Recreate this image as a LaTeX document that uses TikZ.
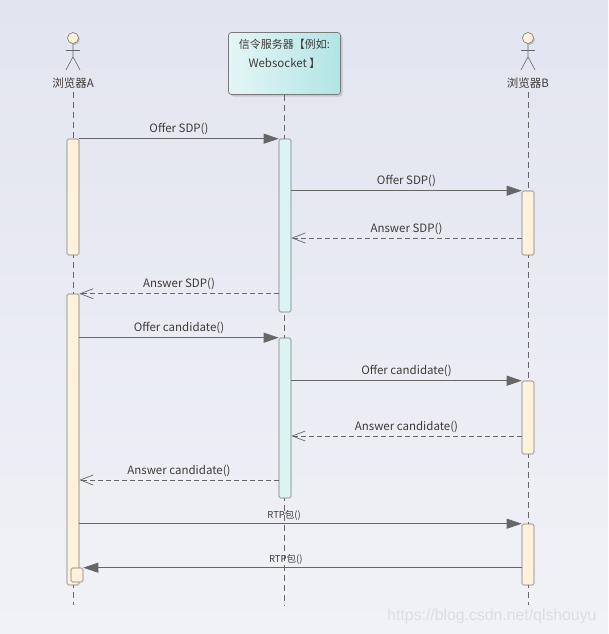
\documentclass[tikz,border=0pt]{standalone}
\usepackage{fontspec}
\setmainfont{Noto Sans CJK SC}
\newfontfamily\wmfont{Liberation Sans}
\usetikzlibrary{arrows.meta}
\usetikzlibrary{shadows}
\usetikzlibrary{positioning}
\definecolor{bgtop}{HTML}{E2E4EF}
\definecolor{bgbot}{HTML}{F1F2F7}
\definecolor{linegray}{HTML}{666666}
\definecolor{boxline}{HTML}{7A7A7A}
\definecolor{cream}{HTML}{FFF1DA}
\definecolor{aqua}{HTML}{DCF3F3}
\definecolor{aquaL}{HTML}{E4F6F6}
\definecolor{aquaR}{HTML}{B2E4E4}
\definecolor{txt}{HTML}{3F3A36}
\definecolor{wm}{HTML}{DCDCE4}
\tikzset{
  life/.style={draw=linegray, line width=0.6pt, dash pattern=on 6pt off 4pt},
  head/.style={circle, draw=boxline, fill=cream, minimum size=11pt, inner sep=0pt, line width=0.6pt,
    drop shadow={shadow xshift=1.5pt, shadow yshift=-1.5pt, opacity=0.35}},
  stick/.style={draw=linegray, line width=0.6pt},
  actlbl/.style={font=\fontsize{11.5}{13}\selectfont, text=txt},
  srvbox/.style={draw=boxline, rounded corners=3pt, left color=aquaL, right color=aquaR, line width=0.7pt,
    minimum width=112pt, minimum height=62pt, inner sep=0pt,
    drop shadow={shadow xshift=2pt, shadow yshift=-2pt, opacity=0.3}},
  actbox/.style={draw=boxline, fill=cream, rounded corners=1.5pt, minimum width=12pt, inner sep=0pt, line width=0.6pt},
  actsrv/.style={actbox, fill=aqua},
  msg/.style={draw=linegray, line width=0.7pt, -{Triangle[length=15pt,width=10pt,fill=linegray]}},
  ret/.style={draw=linegray, line width=0.7pt, dash pattern=on 5pt off 3pt, -{Straight Barb[length=13pt,width=10pt]}},
  mlbl/.style={font=\fontsize{11.5}{13}\selectfont, text=txt, above=0pt}
}
\begin{document}
\begin{tikzpicture}[x=1pt,y=-1pt]
\shade[top color=bgtop, bottom color=bgbot] (0,0) rectangle (608,634);
\useasboundingbox (0,0) rectangle (608,634);
\coordinate (end) at (0,605);

\foreach \x/\n/\t in {73/usera/浏览器A, 528/userb/浏览器B}{
  \node[head] (\n) at (\x,38) {};
  \draw[stick] (\n.south) -- ++(0,13) -- ++(-7,13) ++(7,-13) -- ++(7,13);
  \draw[stick] ({\x-7},50) -- ({\x+7},50);
  \node[actlbl] (\n lbl) at (\x,83) {\t};
  \draw[life] (\n lbl.south) -- (\n lbl.south |- end);
}
\node[srvbox] (srv) at (284.5,63.5) {};
\node[actlbl, align=center, font=\fontsize{11}{19}\selectfont, below=3.5pt of srv.north] (srvt)
  {信令服务器【例如:\\{\fontsize{11.5}{19}\selectfont Websocket} 】};
\draw[life] (srv.south) -- (srv.south |- end);

\node[actbox, minimum height=116pt] (a1) at (73,197) {};
\node[actsrv, minimum height=173pt] (s1) at (285,225.5) {};
\node[actbox, minimum height=64pt] (b1) at (528,223) {};
\node[actbox, minimum height=291pt] (a2) at (73,439.5) {};
\node[actsrv, minimum height=160pt] (s2) at (285,418) {};
\node[actbox, minimum height=73pt] (b2) at (528,417.5) {};
\node[actbox, minimum height=61pt] (b3) at (528,554.5) {};
\node[actbox, minimum height=14pt] (a3) at (77,575) {};

\coordinate (r1) at (0,238);
\coordinate (r2) at (0,436);
\coordinate (r3) at (0,480);

\draw[msg] (a1.north east) -- node[mlbl] (m1) {Offer SDP()} (s1.north west);
\draw[msg] (s1.east |- b1.north) -- node[mlbl] (m2) {Offer SDP()} (b1.north west);
\draw[ret] (b1.west |- r1) -- node[mlbl] (m3) {Answer SDP()} (s1.east |- r1);
\draw[ret] (s1.west |- a2.north) -- node[mlbl] (m4) {Answer SDP()} (a2.north east);
\draw[msg] (a2.east |- s2.north) -- node[mlbl] (m5) {Offer candidate()} (s2.north west);
\draw[msg] (s2.east |- b2.north) -- node[mlbl] (m6) {Offer candidate()} (b2.north west);
\draw[ret] (b2.west |- r2) -- node[mlbl] (m7) {Answer candidate()} (s2.east |- r2);
\draw[ret] (s2.west |- r3) -- node[mlbl] (m8) {Answer candidate()} (a2.east |- r3);
\draw[msg] (a2.east |- b3.north) -- node[mlbl, pos=0.463, font=\fontsize{9.5}{11}\selectfont] (m9) {RTP包()} (b3.north west);
\draw[msg] (b3.west |- a3.north) -- node[mlbl, pos=0.538, font=\fontsize{9.5}{11}\selectfont] (m10) {RTP包()} (a3.north east);

\node[font=\wmfont\fontsize{15.8}{18}\selectfont, text=wm, anchor=east] (wmark) at (600,616) {https://blog.csdn.net/qlshouyu};
\end{tikzpicture}
\end{document}
